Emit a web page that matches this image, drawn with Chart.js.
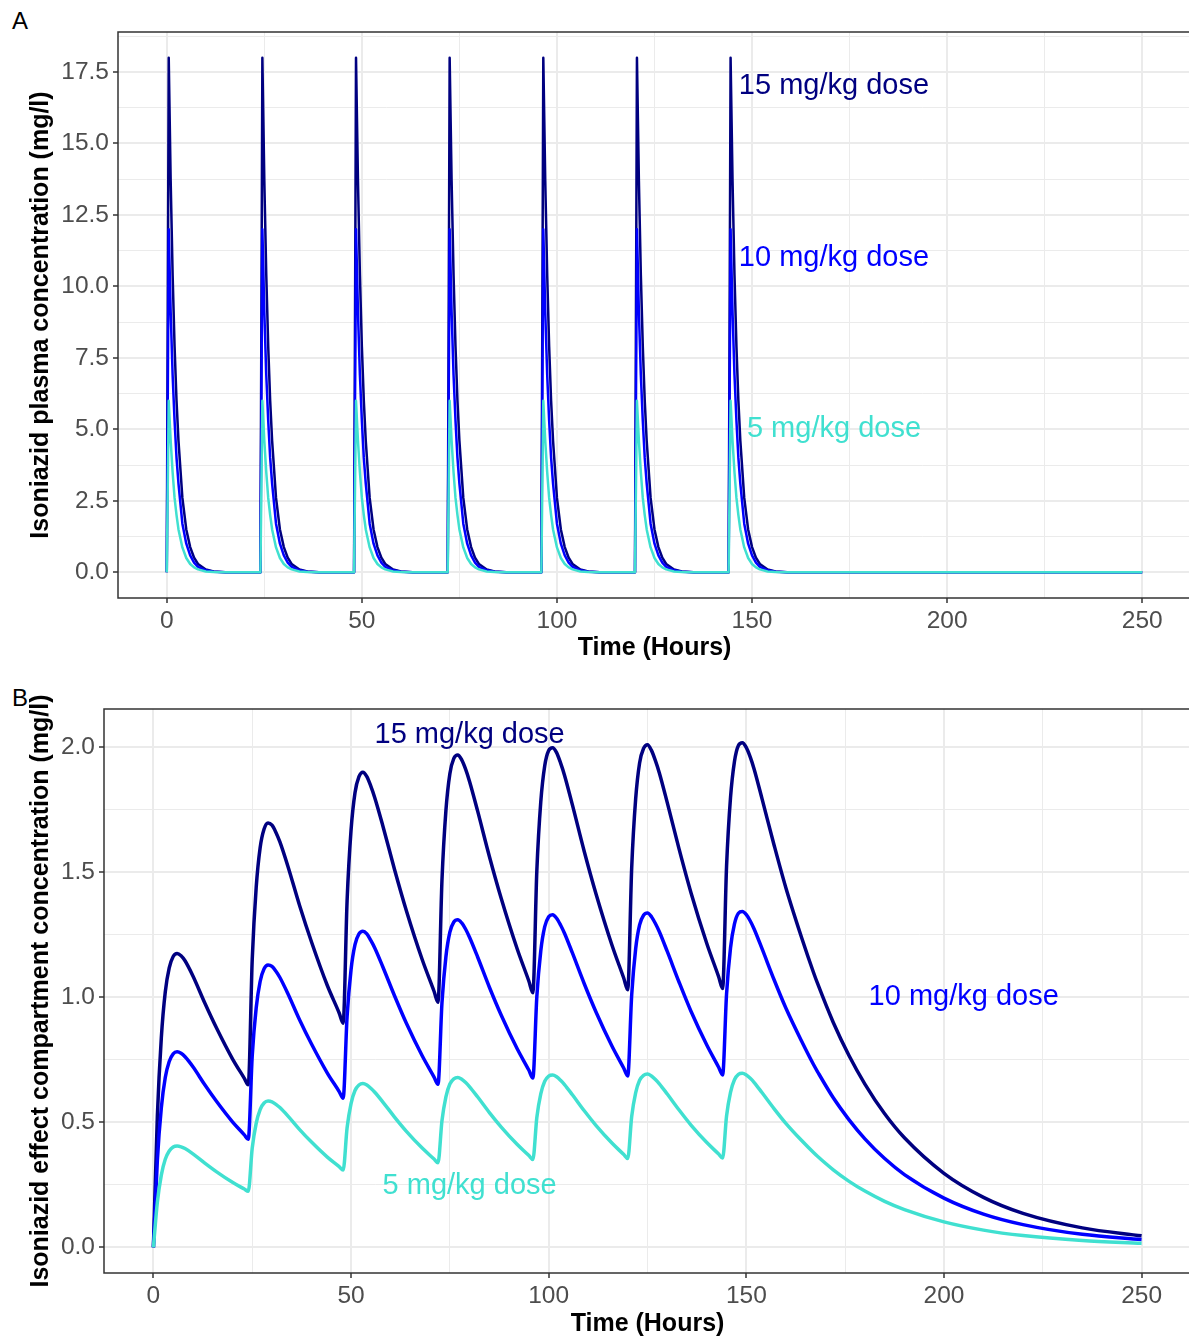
<!DOCTYPE html>
<html>
<head>
<meta charset="utf-8">
<script src="https://cdn.jsdelivr.net/npm/chart.js@4.4.1/dist/chart.umd.min.js"></script>
<style>
  html, body { margin: 0; padding: 0; background: #fff; overflow: hidden; }
  body { width: 1189px; height: 1340px; position: relative; }
  canvas { position: absolute; left: 0; }
  #chartA { top: 0; }
  #chartB { top: 670px; }
  .tag { position: absolute; font: 24px "Liberation Sans", Arial, sans-serif; color: #000; line-height: 1; }
</style>
</head>
<body>
<div class="tag" style="left:12px;top:9px;">A</div>
<div class="tag" style="left:12px;top:686px;">B</div>
<canvas id="chartA" width="1195" height="670"></canvas>
<canvas id="chartB" width="1195" height="670"></canvas>
<script>
// ---- panel A: plasma concentration, same profile after every dose ----
const doseTimes = [0, 24, 48, 72, 96, 120, 144];
const plasmaHours = [0, 0.5, 1, 1.5, 2, 2.5, 3, 4, 5, 6, 7, 8, 10, 12, 15];
const plasma15 = [0, 18.0, 13.7, 10.4, 7.9, 6.0, 4.6, 2.6, 1.5, 0.88, 0.51, 0.29, 0.10, 0.03, 0];
const plasma10 = [0, 12.0, 9.1, 6.9, 5.3, 4.0, 3.1, 1.7, 1.0, 0.59, 0.34, 0.19, 0.07, 0.02, 0];
const plasma5 = [0, 6.0, 4.6, 3.5, 2.6, 2.0, 1.5, 0.87, 0.5, 0.29, 0.17, 0.10, 0.03, 0.01, 0];
const lastHour = 250;

// ---- panel B: effect compartment concentration ----
// hours after each dose, then the washout tail after the last dose
const effectOffsets = [0, 1, 2, 3, 4, 5, 6, 7, 8, 10, 13, 16, 20, 23];
const effectTailHours = [168, 172, 176, 180, 185, 190, 200, 210, 220, 235, 250];
const effect15 = [
  0, 0.525, 0.838, 1.021, 1.117, 1.163, 1.175, 1.166, 1.146, 1.085, 0.977, 0.876, 0.754, 0.676,
  0.650, 1.151, 1.438, 1.598, 1.673, 1.697, 1.688, 1.659, 1.621, 1.525, 1.366, 1.221, 1.047, 0.937,
  0.896, 1.386, 1.668, 1.818, 1.882, 1.900, 1.882, 1.844, 1.798, 1.688, 1.511, 1.346, 1.151, 1.024,
  0.980, 1.467, 1.746, 1.894, 1.955, 1.969, 1.949, 1.911, 1.862, 1.746, 1.563, 1.395, 1.195, 1.064,
  1.018, 1.505, 1.781, 1.926, 1.987, 1.998, 1.978, 1.937, 1.888, 1.769, 1.583, 1.412, 1.209, 1.076,
  1.030, 1.517, 1.792, 1.937, 1.995, 2.010, 1.987, 1.946, 1.897, 1.778, 1.592, 1.418, 1.215, 1.082,
  1.035, 1.523, 1.798, 1.943, 2.007, 2.018, 1.998, 1.960, 1.911, 1.792, 1.610, 1.438, 1.238, 1.099,
  1.056, 0.899, 0.766, 0.653, 0.534, 0.438, 0.296, 0.200, 0.136, 0.078, 0.046
];
const effect10 = [
  0, 0.349, 0.558, 0.679, 0.743, 0.774, 0.782, 0.776, 0.762, 0.722, 0.650, 0.583, 0.502, 0.450,
  0.432, 0.766, 0.957, 1.063, 1.114, 1.129, 1.123, 1.104, 1.079, 1.015, 0.909, 0.813, 0.697, 0.623,
  0.596, 0.923, 1.110, 1.210, 1.253, 1.264, 1.253, 1.227, 1.197, 1.123, 1.006, 0.896, 0.766, 0.681,
  0.652, 0.977, 1.162, 1.260, 1.301, 1.310, 1.297, 1.272, 1.239, 1.162, 1.040, 0.928, 0.795, 0.708,
  0.677, 1.002, 1.185, 1.282, 1.322, 1.330, 1.316, 1.289, 1.256, 1.177, 1.054, 0.940, 0.805, 0.716,
  0.685, 1.009, 1.193, 1.289, 1.328, 1.337, 1.322, 1.295, 1.262, 1.183, 1.060, 0.944, 0.809, 0.720,
  0.689, 1.013, 1.197, 1.293, 1.336, 1.343, 1.330, 1.305, 1.272, 1.193, 1.071, 0.957, 0.824, 0.731,
  0.703, 0.598, 0.510, 0.434, 0.355, 0.291, 0.197, 0.133, 0.091, 0.052, 0.031
];
const effect5 = [
  0, 0.181, 0.289, 0.352, 0.385, 0.401, 0.405, 0.402, 0.395, 0.374, 0.337, 0.302, 0.260, 0.233,
  0.224, 0.397, 0.496, 0.551, 0.577, 0.585, 0.582, 0.572, 0.559, 0.526, 0.471, 0.421, 0.361, 0.323,
  0.309, 0.478, 0.575, 0.627, 0.649, 0.655, 0.649, 0.636, 0.620, 0.582, 0.521, 0.464, 0.397, 0.353,
  0.338, 0.506, 0.602, 0.653, 0.674, 0.679, 0.672, 0.659, 0.642, 0.602, 0.539, 0.481, 0.412, 0.367,
  0.351, 0.519, 0.614, 0.664, 0.685, 0.689, 0.682, 0.668, 0.651, 0.610, 0.546, 0.487, 0.417, 0.371,
  0.355, 0.523, 0.618, 0.668, 0.688, 0.693, 0.685, 0.671, 0.654, 0.613, 0.549, 0.489, 0.419, 0.373,
  0.357, 0.525, 0.620, 0.670, 0.692, 0.696, 0.689, 0.676, 0.659, 0.618, 0.555, 0.496, 0.427, 0.379,
  0.364, 0.310, 0.264, 0.225, 0.184, 0.151, 0.102, 0.069, 0.047, 0.027, 0.016
];

const doseNames = ["15 mg/kg dose", "10 mg/kg dose", "5 mg/kg dose"];
const doseColors = ["#000080", "#0000ff", "#40e0d0"];

// label anchors in data units
const labelXA = [171, 171, 171];
const labelYA = [17, 11, 5];
const labelXB = [80, 205, 80];
const labelYB = [2.05, 1.0, 0.245];

const xMajor = [0, 50, 100, 150, 200, 250];
const xMinor = [25, 75, 125, 175, 225];
const yMajorA = [0, 2.5, 5, 7.5, 10, 12.5, 15, 17.5];
const yMinorA = [1.25, 3.75, 6.25, 8.75, 11.25, 13.75, 16.25, 18.75];
const yMajorB = [0, 0.5, 1, 1.5, 2];
const yMinorB = [0.25, 0.75, 1.25, 1.75];

const FONT = '"Liberation Sans", Arial, sans-serif';

function plasmaSeries(profile) {
  const pts = [];
  doseTimes.forEach((d) => {
    plasmaHours.forEach((h, i) => pts.push({ x: d + h, y: profile[i] }));
  });
  pts.push({ x: lastHour, y: 0 });
  return pts;
}

function effectSeries(values) {
  const hours = [];
  doseTimes.forEach((d) => effectOffsets.forEach((o) => hours.push(d + o)));
  effectTailHours.forEach((h) => hours.push(h));
  return hours.map((h, i) => ({ x: h, y: values[i] }));
}

const panelExtras = {
  id: "panelExtras",
  afterDatasetsDraw(chart, args, opts) {
    const { ctx, chartArea: a, scales } = chart;
    ctx.save();
    ctx.strokeStyle = "#333333";
    ctx.lineWidth = 1.5;
    ctx.strokeRect(a.left, a.top, a.right - a.left, a.bottom - a.top);
    ctx.font = "29px " + FONT;
    ctx.textAlign = "center";
    ctx.textBaseline = "middle";
    opts.xs.forEach((x, i) => {
      ctx.fillStyle = doseColors[i];
      ctx.fillText(doseNames[i], scales.x.getPixelForValue(x), scales.y.getPixelForValue(opts.ys[i]));
    });
    ctx.restore();
  },
};

function makeAxis(major, minor, min, max, fmt, size, title, titlePad, isY) {
  const all = major.concat(minor).sort((a, b) => a - b);
  const isMajor = (v) => major.includes(v);
  return {
    type: "linear",
    min: min,
    max: max,
    afterBuildTicks: (axis) => {
      axis.ticks = all.map((v) => ({ value: v }));
    },
    afterFit: (axis) => {
      if (isY) axis.width = size;
      else axis.height = size;
    },
    border: { display: false },
    grid: {
      color: "#ebebeb",
      lineWidth: (c) => (isMajor(c.tick.value) ? 2 : 1),
      tickLength: 5,
      tickColor: (c) => (isMajor(c.tick.value) ? "#333333" : "rgba(0,0,0,0)"),
      tickWidth: 1.5,
    },
    ticks: {
      autoSkip: false,
      maxRotation: 0,
      padding: 4,
      color: "#4d4d4d",
      font: { family: FONT, size: 24.5 },
      callback: (v) => (isMajor(v) ? fmt(v) : ""),
    },
    title: {
      display: true,
      text: title,
      color: "#000",
      font: { family: FONT, size: 25, weight: "bold" },
      padding: titlePad,
    },
  };
}

function lineSet(label, data, color, width, smooth) {
  const ds = {
    label: label,
    data: data,
    borderColor: color,
    backgroundColor: color,
    borderWidth: width,
    borderJoinStyle: "round",
    pointRadius: 0,
    fill: false,
    tension: 0,
  };
  if (smooth) ds.cubicInterpolationMode = "monotone";
  return ds;
}

new Chart(document.getElementById("chartA"), {
  type: "line",
  data: {
    datasets: [
      lineSet(doseNames[2], plasmaSeries(plasma5), doseColors[2], 2.5, false),
      lineSet(doseNames[1], plasmaSeries(plasma10), doseColors[1], 2.5, false),
      lineSet(doseNames[0], plasmaSeries(plasma15), doseColors[0], 2.5, false),
    ],
  },
  options: {
    responsive: false,
    animation: false,
    devicePixelRatio: 1,
    layout: { padding: { top: 32, right: 4, left: 0, bottom: 0 } },
    plugins: {
      legend: { display: false },
      tooltip: { enabled: false },
      panelExtras: { xs: labelXA, ys: labelYA },
    },
    scales: {
      x: makeAxis(xMajor, xMinor, -12.5, 262.5, (v) => String(v), 72, "Time (Hours)", { top: 0, bottom: 7 }, false),
      y: makeAxis(yMajorA, yMinorA, -0.9, 18.9, (v) => v.toFixed(1), 118, "Isoniazid plasma concentration (mg/l)", { top: 26, bottom: 0 }, true),
    },
  },
  plugins: [panelExtras],
});

new Chart(document.getElementById("chartB"), {
  type: "line",
  data: {
    datasets: [
      lineSet(doseNames[2], effectSeries(effect5), doseColors[2], 3.5, true),
      lineSet(doseNames[1], effectSeries(effect10), doseColors[1], 3.5, true),
      lineSet(doseNames[0], effectSeries(effect15), doseColors[0], 3.5, true),
    ],
  },
  options: {
    responsive: false,
    animation: false,
    devicePixelRatio: 1,
    layout: { padding: { top: 39, right: 4, left: 0, bottom: 0 } },
    plugins: {
      legend: { display: false },
      tooltip: { enabled: false },
      panelExtras: { xs: labelXB, ys: labelYB },
    },
    scales: {
      x: makeAxis(xMajor, xMinor, -12.5, 262.5, (v) => String(v), 67, "Time (Hours)", { top: 0, bottom: 1 }, false),
      y: makeAxis(yMajorB, yMinorB, -0.1025, 2.1525, (v) => v.toFixed(1), 104, "Isoniazid effect compartment concentration (mg/l)", { top: 26, bottom: 0 }, true),
    },
  },
  plugins: [panelExtras],
});
</script>
</body>
</html>
